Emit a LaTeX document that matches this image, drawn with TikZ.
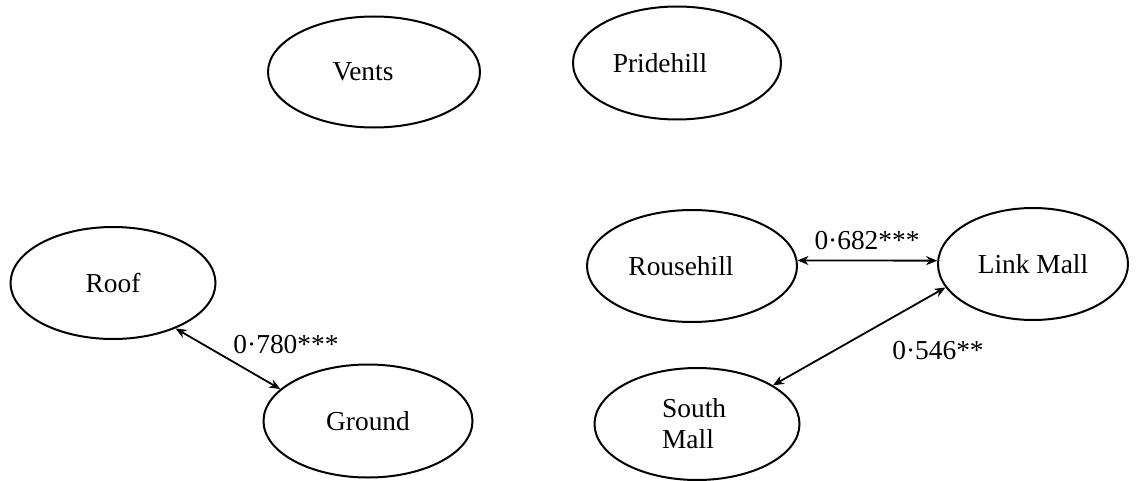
\documentclass[tikz,border=0pt]{standalone}
\usepackage{fontspec}
\setmainfont{Liberation Serif}
\usetikzlibrary{shapes.geometric,arrows.meta}
\begin{document}
\begin{tikzpicture}[x=0.5pt,y=-0.5pt,
  var/.style={draw, ellipse, line width=1pt, inner sep=0pt,
    font=\fontsize{13.7}{15.5}\selectfont, align=center},
  corr/.style={line width=0.9pt,
    {Stealth[length=5.5pt,width=4.5pt]}-{Stealth[length=5.5pt,width=4.5pt]}},
  lab/.style={font=\fontsize{13.7}{15.5}\selectfont, inner sep=0pt}]
\useasboundingbox (0,0) rectangle (1139,481);
\node[var, minimum width=106pt, minimum height=55.5pt] (vents) at (374,72) {Vents\hspace*{11pt}};
\node[var, minimum width=104pt, minimum height=56.5pt] (pride) at (677,63) {Pridehill\hspace*{17pt}};
\node[var, minimum width=102.5pt, minimum height=56pt] (roof) at (113,283) {Roof};
\node[var, minimum width=104.5pt, minimum height=56.5pt] (ground) at (368,421) {Ground};
\node[var, minimum width=105pt, minimum height=56pt] (rouse) at (692,266) {Rousehill\hspace*{11pt}};
\node[var, minimum width=95pt, minimum height=56pt] (link) at (1033,264) {Link Mall};
\node[var, minimum width=102.5pt, minimum height=56pt, align=left] (south) at (697,424) {South\\Mall\hspace*{9pt}};
\draw[corr] (roof.-36) -- (ground.160);
\draw[corr] (rouse.3) -- (link.178);
\draw[corr] (link.195) -- (south.27);
\node[lab] (l1) at (286,345) {0·780***};
\node[lab] (l2) at (867,241) {0·682***};
\node[lab] (l3) at (938,351) {0·546**};
\end{tikzpicture}
\end{document}
